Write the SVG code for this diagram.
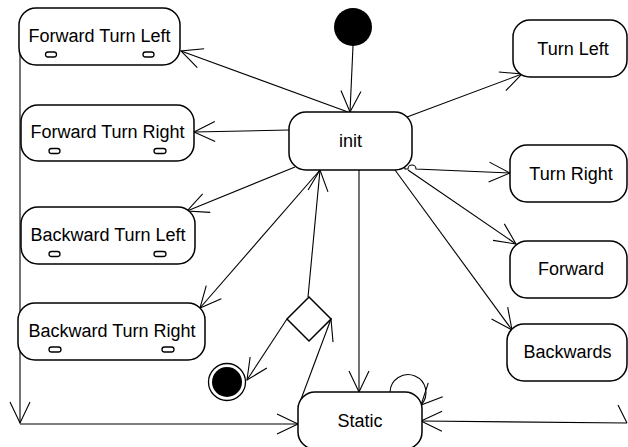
<svg xmlns="http://www.w3.org/2000/svg" width="628" height="447" viewBox="0 0 628 447">
  <style>
    .state { fill: #fff; stroke: #000; stroke-width: 1.5; }
    .slot { fill: #fff; stroke: #000; stroke-width: 1.3; }
    .label { font-family: "Liberation Sans", Arial, sans-serif; font-size: 18px; fill: #000; text-anchor: middle; }
    .edge { fill: none; stroke: #000; stroke-width: 1.1; }
    .arrow { marker-end: url(#open-arrow); }
  </style>
  <defs>
    <marker id="open-arrow" markerUnits="userSpaceOnUse" orient="auto" refX="0" refY="0"
            markerWidth="26" markerHeight="24" viewBox="-23 -12 26 24" overflow="visible">
      <path d="M -21 -10 L 0 0 L -21 10" fill="none" stroke="#000" stroke-width="1.1"/>
    </marker>
  </defs>

  <rect width="628" height="447" fill="#fff"/>

  <!-- transitions -->
  <g id="connectors">
    <line class="edge arrow" x1="353" y1="46" x2="350" y2="112"/>
    <line class="edge arrow" x1="348" y1="112" x2="181" y2="51"/>
    <line class="edge arrow" x1="289" y1="130" x2="194" y2="132"/>
    <line class="edge arrow" x1="295" y1="167" x2="187" y2="211"/>
    <line class="edge arrow" x1="320" y1="170" x2="200" y2="308"/>
    <line class="edge arrow" x1="308" y1="297" x2="320" y2="170"/>
    <line class="edge arrow" x1="359" y1="170" x2="359" y2="392"/>
    <line class="edge arrow" x1="407" y1="117" x2="522" y2="74"/>
    <path class="edge arrow" d="M 392 169 L 399 169 A 3 3 0 0 1 405 169 L 408 169 A 4 4 0 0 1 416 169 L 510 173"/>
    <line class="edge arrow" x1="408" y1="170" x2="516" y2="244"/>
    <line class="edge arrow" x1="395" y1="170" x2="512" y2="330"/>
    <line class="edge arrow" x1="20" y1="36" x2="20" y2="423"/>
    <line class="edge arrow" x1="20" y1="424" x2="298" y2="424"/>
    <line class="edge arrow" x1="300" y1="402" x2="331" y2="319"/>
    <line class="edge arrow" x1="287" y1="319" x2="247" y2="380"/>
    <line class="edge arrow" x1="627" y1="423" x2="421" y2="421"/>
    <line class="edge" x1="618" y1="405" x2="627" y2="423"/>
    <path class="edge arrow" d="M 390 392 A 18 18 0 1 1 421 405"/>
  </g>

  <g id="initial">
    <circle cx="353" cy="27" r="19" fill="#000"/>
  </g>

  <g id="final">
    <circle cx="227" cy="382" r="18.5" fill="#fff" stroke="#000" stroke-width="1.3"/>
    <circle cx="227" cy="382" r="15" fill="#000"/>
  </g>

  <g id="choice">
    <polygon points="309,297 331,319 309,341 287,319" fill="#fff" stroke="#000" stroke-width="1.5"/>
  </g>

  <g id="forward-turn-left">
    <rect class="state" x="19" y="8" width="161" height="57" rx="17"/>
    <text class="label" x="99.5" y="42">Forward Turn Left</text>
    <rect class="slot" x="45.5" y="52" width="11" height="5" rx="2.5"/>
    <rect class="slot" x="143" y="52" width="11" height="5" rx="2.5"/>
  </g>

  <g id="forward-turn-right">
    <rect class="state" x="21" y="105" width="173" height="56" rx="17"/>
    <text class="label" x="107.5" y="138">Forward Turn Right</text>
    <rect class="slot" x="49" y="148.5" width="11" height="5" rx="2.5"/>
    <rect class="slot" x="154" y="148.5" width="12" height="5" rx="2.5"/>
  </g>

  <g id="backward-turn-left">
    <rect class="state" x="21" y="207" width="174" height="57" rx="17"/>
    <text class="label" x="108" y="241">Backward Turn Left</text>
    <rect class="slot" x="49" y="251.5" width="11" height="5" rx="2.5"/>
    <rect class="slot" x="154" y="251.5" width="12" height="5" rx="2.5"/>
  </g>

  <g id="backward-turn-right">
    <rect class="state" x="18" y="303" width="187" height="57" rx="17"/>
    <text class="label" x="112" y="337">Backward Turn Right</text>
    <rect class="slot" x="49" y="347" width="12" height="5" rx="2.5"/>
    <rect class="slot" x="162" y="347" width="12" height="5" rx="2.5"/>
  </g>

  <g id="init">
    <rect class="state" x="289" y="112" width="123" height="58" rx="17"/>
    <text class="label" x="350.5" y="147">init</text>
  </g>

  <g id="turn-left">
    <rect class="state" x="513" y="20" width="114" height="57" rx="17"/>
    <text class="label" x="573" y="55">Turn Left</text>
  </g>

  <g id="turn-right">
    <rect class="state" x="510" y="145" width="117" height="57" rx="17"/>
    <text class="label" x="571" y="180">Turn Right</text>
  </g>

  <g id="forward">
    <rect class="state" x="510" y="241" width="117" height="57" rx="17"/>
    <text class="label" x="571" y="275">Forward</text>
  </g>

  <g id="backwards">
    <rect class="state" x="507" y="324" width="120" height="57" rx="17"/>
    <text class="label" x="567.5" y="358">Backwards</text>
  </g>

  <g id="static">
    <rect class="state" x="298" y="392" width="124" height="57" rx="17"/>
    <text class="label" x="360" y="427">Static</text>
  </g>
</svg>
